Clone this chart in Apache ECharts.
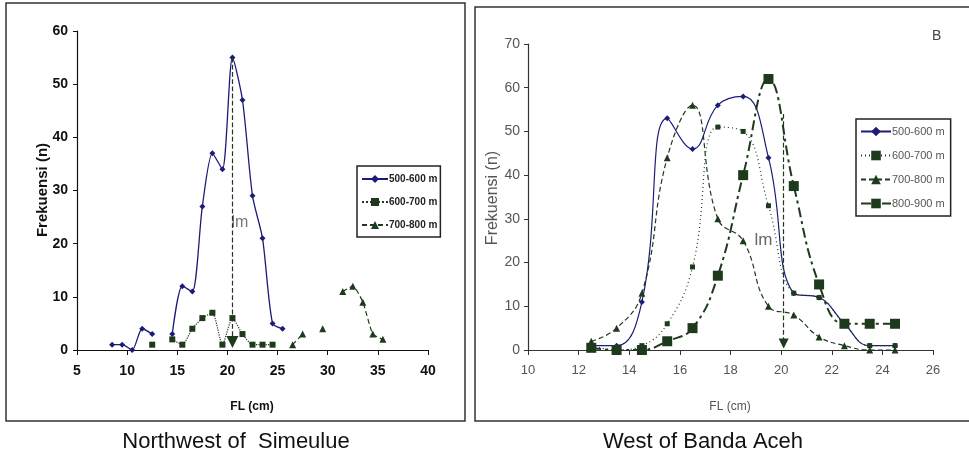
<!DOCTYPE html>
<html>
<head>
<meta charset="utf-8">
<title>Frekuensi FL</title>
<script src="https://cdn.jsdelivr.net/npm/echarts@6/dist/echarts.min.js"></script>
<style>
    html, body { margin: 0; padding: 0; background: #fff; }
    #chart { width: 969px; height: 466px; }
</style>
</head>
<body>
<div id="chart"></div>
<script>
// ---- data : Northwest of Simeulue (kiri) ----
var flA = [8.5, 9.5, 10.5, 11.5, 12.5, 13.5, 14.5, 15.5, 16.5, 17.5, 18.5, 19.5, 20.5, 21.5, 22.5, 23.5, 24.5, 25.5, 26.5, 27.5, 28.5, 29.5, 30.5, 31.5, 32.5, 33.5, 34.5, 35.5];
var a500 = [1, 1, 0, 4, 3, null, 3, 12, 11, 27, 37, 34, 55, 47, 29, 21, 5, 4, null, null, null, null, null, null, null, null, null, null];
var a600 = [null, null, null, null, 1, null, 2, 1, 4, 6, 7, 1, 6, 3, 1, 1, 1, null, null, null, null, null, null, null, null, null, null, null];
var a700 = [null, null, null, null, null, null, null, null, null, null, null, null, null, null, null, null, null, null, 1, 3, null, 4, null, 11, 12, 9, 3, 2];
var arrowA = [20.5, 55, 1.5];   // x, y atas, y bawah
var labelA = [20.4, 24];

// ---- data : West of Banda Aceh (kanan) ----
var flB = [12.5, 13.5, 14.5, 15.5, 16.5, 17.5, 18.5, 19.5, 20.5, 21.5, 22.5, 23.5, 24.5];
var b500 = [1, 1, 11, 53, 46, 56, 58, 44, 13, 12, 6, 1, 1];
var b600 = [1, 0, 1, 6, 19, 51, 50, 33, 13, 12, 6, 1, 1];
var b700 = [2, 5, 13, 44, 56, 30, 25, 10, 8, 3, 1, 0, 0];
var b800 = [0.5, 0, 0, 2, 5, 17, 40, 62, 37.5, 15, 6, 6, 6];
var arrowB = [20.1, 54, 1.5];
var labelB = [18.95, 25];

var namesA = ['500-600 m', '600-700 m', '700-800 m'];
// spasi di akhir supaya legend kanan ambil style series kanan sendiri
var namesB = ['500-600 m ', '600-700 m ', '700-800 m ', '800-900 m '];

var SANS = "'Liberation Sans', Arial, sans-serif";
var NAVY = '#1c1c78';
var GREEN = '#1d3a1d';

function pairs(xs, ys) {
    return xs.map(function (x, i) {
        return ys[i] === null ? [x, '-'] : [x, ys[i]];
    });
}

function arrowLine(a, size) {
    return {
        silent: true,
        symbol: ['none', 'triangle'],
        symbolSize: size,
        label: { show: false },
        lineStyle: { color: GREEN, type: 'dashed', width: 1.2 },
        itemStyle: { color: GREEN },
        data: [[{ coord: [a[0], a[1]] }, { coord: [a[0], a[2]] }]]
    };
}

var myChart = echarts.init(document.getElementById('chart'));

var option = {
    animation: false,
    backgroundColor: '#fff',
    grid: [
        { left: 77, top: 31, width: 351, height: 319 },
        { left: 528, top: 44, width: 405, height: 306 }
    ],
    xAxis: [
        {
            gridIndex: 0, type: 'value', min: 5, max: 40, interval: 5,
            splitLine: { show: false },
            axisLine: { lineStyle: { color: '#111', width: 1.2 } },
            axisTick: { length: 5, lineStyle: { color: '#111' } },
            axisLabel: { color: '#111', fontFamily: SANS, fontWeight: 'bold', fontSize: 14, margin: 14 }
        },
        {
            gridIndex: 1, type: 'value', min: 10, max: 26, interval: 2,
            splitLine: { show: false },
            axisLine: { lineStyle: { color: '#333', width: 1.2 } },
            axisTick: { length: 5, lineStyle: { color: '#333' } },
            axisLabel: { color: '#555', fontFamily: SANS, fontSize: 13, margin: 14 }
        }
    ],
    yAxis: [
        {
            gridIndex: 0, type: 'value', min: 0, max: 60, interval: 10,
            splitLine: { show: false },
            axisLine: { show: true, lineStyle: { color: '#111', width: 1.2 } },
            axisTick: { show: true, length: 4, lineStyle: { color: '#111' } },
            axisLabel: { color: '#111', fontFamily: SANS, fontWeight: 'bold', fontSize: 14, margin: 9 }
        },
        {
            gridIndex: 1, type: 'value', min: 0, max: 70, interval: 10,
            splitLine: { show: false },
            axisLine: { show: true, lineStyle: { color: '#333', width: 1.2 } },
            axisTick: { show: true, length: 4, lineStyle: { color: '#333' } },
            axisLabel: { color: '#555', fontFamily: SANS, fontSize: 14, margin: 8 }
        }
    ],
    legend: [
        {
            orient: 'vertical', left: 357, top: 166,
            data: namesA,
            itemWidth: 26, itemHeight: 10, itemGap: 13,
            padding: [8, 3, 7, 4],
            borderColor: '#222', borderWidth: 1.5,
            textStyle: { color: '#222', fontFamily: SANS, fontWeight: 'bold', fontSize: 10, padding: [0, 0, 0, -4] }
        },
        {
            orient: 'vertical', left: 856, top: 119,
            data: namesB,
            itemWidth: 30, itemHeight: 12, itemGap: 13,
            padding: [7, 3, 7, 4],
            borderColor: '#222', borderWidth: 1.5,
            textStyle: { color: '#555', fontFamily: SANS, fontSize: 11, padding: [0, 0, 0, -4] }
        }
    ],
    series: [
        // kiri
        {
            name: namesA[0], type: 'line', xAxisIndex: 0, yAxisIndex: 0,
            data: pairs(flA, a500), smooth: 0.25, connectNulls: false,
            symbol: 'diamond', symbolSize: 6,
            lineStyle: { color: NAVY, width: 1.3 }, itemStyle: { color: NAVY }
        },
        {
            name: namesA[1], type: 'line', xAxisIndex: 0, yAxisIndex: 0,
            data: pairs(flA, a600), smooth: 0.2, connectNulls: false,
            symbol: 'rect', symbolSize: 6,
            lineStyle: { color: GREEN, width: 1.2, type: 'dotted' }, itemStyle: { color: GREEN },
            markLine: arrowLine(arrowA, 12)
        },
        {
            name: namesA[2], type: 'line', xAxisIndex: 0, yAxisIndex: 0,
            data: pairs(flA, a700), smooth: 0.2, connectNulls: false,
            symbol: 'triangle', symbolSize: 7,
            lineStyle: { color: GREEN, width: 1.2, type: [5, 3] }, itemStyle: { color: GREEN }
        },
        // kanan
        {
            name: namesB[0], type: 'line', xAxisIndex: 1, yAxisIndex: 1,
            data: pairs(flB, b500), smooth: 0.45,
            symbol: 'diamond', symbolSize: 6,
            lineStyle: { color: NAVY, width: 1.2 }, itemStyle: { color: NAVY }
        },
        {
            name: namesB[1], type: 'line', xAxisIndex: 1, yAxisIndex: 1,
            data: pairs(flB, b600), smooth: 0.45,
            symbol: 'rect', symbolSize: 5,
            lineStyle: { color: GREEN, width: 1.2, type: [1, 3] }, itemStyle: { color: GREEN }
        },
        {
            name: namesB[2], type: 'line', xAxisIndex: 1, yAxisIndex: 1,
            data: pairs(flB, b700), smooth: 0.45,
            symbol: 'triangle', symbolSize: 7,
            lineStyle: { color: GREEN, width: 1.2, type: [5, 3] }, itemStyle: { color: GREEN }
        },
        {
            name: namesB[3], type: 'line', xAxisIndex: 1, yAxisIndex: 1,
            data: pairs(flB, b800), smooth: 0.45,
            symbol: 'rect', symbolSize: 10,
            lineStyle: { color: GREEN, width: 2, type: [10, 4, 3, 4] }, itemStyle: { color: GREEN },
            markLine: arrowLine(arrowB, 10)
        }
    ]
};
myChart.setOption(option);

// teks tambahan (label lm, judul panel, bingkai)
var pA = myChart.convertToPixel({ gridIndex: 0 }, labelA);
var pB = myChart.convertToPixel({ gridIndex: 1 }, labelB);

myChart.setOption({
    graphic: [
        { type: 'rect', shape: { x: 6, y: 3, width: 459, height: 418 }, style: { fill: 'none', stroke: '#333', lineWidth: 1.5 }, z: 0 },
        { type: 'rect', shape: { x: 475, y: 7, width: 500, height: 414 }, style: { fill: 'none', stroke: '#333', lineWidth: 1.5 }, z: 0 },
        { type: 'text', x: pA[0], y: pA[1], style: { text: 'lm', fill: '#777', font: '16px ' + SANS, textVerticalAlign: 'middle' } },
        { type: 'text', x: pB[0], y: pB[1], style: { text: 'lm', fill: '#666', font: '17px ' + SANS, textVerticalAlign: 'middle' } },
        { type: 'text', x: 932, y: 29, style: { text: 'B', fill: '#444', font: '14px ' + SANS } },
        // judul sumbu
        { type: 'text', x: 43, y: 190, rotation: Math.PI / 2, style: { text: 'Frekuensi (n)', fill: '#111', font: 'bold 15px ' + SANS, textAlign: 'center', textVerticalAlign: 'middle' } },
        { type: 'text', x: 493, y: 198, rotation: Math.PI / 2, style: { text: 'Frekuensi (n)', fill: '#555', font: '16px ' + SANS, textAlign: 'center', textVerticalAlign: 'middle' } },
        { type: 'text', x: 252, y: 407, style: { text: 'FL (cm)', fill: '#111', font: 'bold 12px ' + SANS, textAlign: 'center', textVerticalAlign: 'middle' } },
        { type: 'text', x: 730, y: 407, style: { text: 'FL (cm)', fill: '#555', font: '12px ' + SANS, textAlign: 'center', textVerticalAlign: 'middle' } },
        // judul panel
        { type: 'text', x: 236, y: 442, style: { text: 'Northwest of  Simeulue', fill: '#111', font: '22px ' + SANS, textAlign: 'center', textVerticalAlign: 'middle' } },
        { type: 'text', x: 703, y: 442, style: { text: 'West of Banda Aceh', fill: '#111', font: '22px ' + SANS, textAlign: 'center', textVerticalAlign: 'middle' } }
    ]
});
</script>
</body>
</html>
